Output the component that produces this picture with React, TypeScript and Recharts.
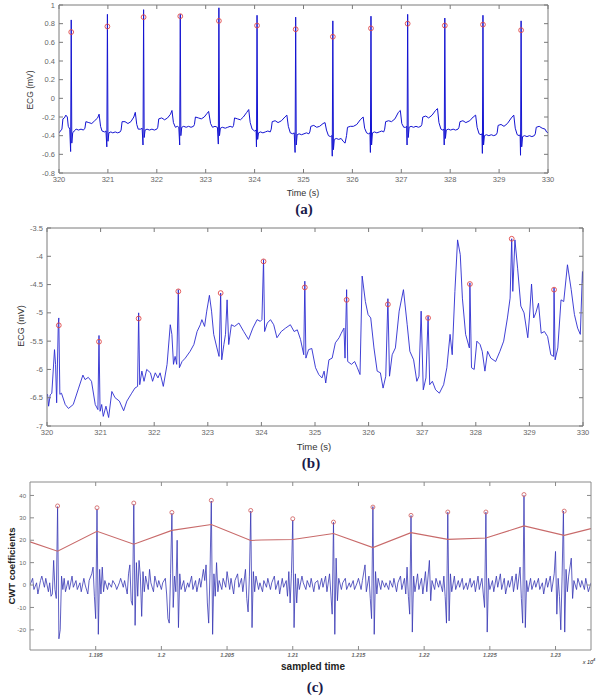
import React from "react";
import { ComposedChart, Line, Scatter, XAxis, YAxis } from "recharts";

// (a) filtered ECG: [time s, mV]
const ecgA: [number, number][] = [
  [320.0, -0.37], [320.03, -0.35], [320.06, -0.33], [320.08, -0.22], [320.11, -0.21], [320.14, -0.18], [320.17, -0.2], [320.19, -0.3], [320.22, -0.33],
  [320.238, -0.57], [320.25, 0.84], [320.262, -0.48], [320.28, -0.37], [320.31, -0.35], [320.35, -0.33], [320.4, -0.34], [320.45, -0.33], [320.5, -0.34], [320.53, -0.32], [320.55, -0.25], [320.61, -0.26], [320.67, -0.27], [320.73, -0.24], [320.79, -0.21], [320.82, -0.17], [320.85, -0.3], [320.88, -0.35], [320.93, -0.36], [320.96, -0.35],
  [320.978, -0.52], [320.99, 0.9], [321.002, -0.46], [321.02, -0.37], [321.06, -0.36], [321.1, -0.37], [321.15, -0.36], [321.2, -0.37], [321.25, -0.36], [321.27, -0.34], [321.29, -0.25], [321.35, -0.25], [321.41, -0.27], [321.47, -0.25], [321.53, -0.2], [321.56, -0.15], [321.59, -0.28], [321.62, -0.33], [321.67, -0.33], [321.7, -0.32],
  [321.718, -0.5], [321.73, 0.95], [321.742, -0.42], [321.76, -0.34], [321.8, -0.33], [321.85, -0.34], [321.9, -0.33], [321.95, -0.34], [322.0, -0.33], [322.02, -0.31], [322.04, -0.22], [322.1, -0.21], [322.16, -0.23], [322.22, -0.21], [322.28, -0.17], [322.31, -0.13], [322.34, -0.26], [322.38, -0.31], [322.42, -0.3], [322.45, -0.31],
  [322.468, -0.5], [322.48, 0.9], [322.492, -0.4], [322.51, -0.31], [322.55, -0.3], [322.6, -0.31], [322.65, -0.3], [322.7, -0.31], [322.75, -0.3], [322.77, -0.28], [322.79, -0.2], [322.85, -0.21], [322.91, -0.22], [322.97, -0.2], [323.03, -0.16], [323.06, -0.14], [323.1, -0.27], [323.14, -0.31], [323.19, -0.3], [323.24, -0.31],
  [323.258, -0.49], [323.27, 0.97], [323.282, -0.4], [323.3, -0.32], [323.34, -0.31], [323.4, -0.32], [323.45, -0.31], [323.5, -0.3], [323.55, -0.31], [323.57, -0.29], [323.59, -0.21], [323.65, -0.22], [323.71, -0.23], [323.77, -0.2], [323.84, -0.15], [323.88, -0.12], [323.91, -0.26], [323.95, -0.33], [324.0, -0.35], [324.03, -0.34],
  [324.038, -0.52], [324.05, 0.89], [324.062, -0.44], [324.08, -0.37], [324.12, -0.36], [324.17, -0.37], [324.22, -0.36], [324.27, -0.35], [324.32, -0.36], [324.34, -0.33], [324.36, -0.25], [324.42, -0.24], [324.48, -0.26], [324.55, -0.24], [324.62, -0.2], [324.66, -0.18], [324.69, -0.3], [324.73, -0.37], [324.78, -0.38], [324.81, -0.37],
  [324.828, -0.58], [324.84, 0.87], [324.852, -0.5], [324.87, -0.39], [324.91, -0.38], [324.96, -0.39], [325.01, -0.38], [325.06, -0.37], [325.11, -0.38], [325.13, -0.36], [325.15, -0.3], [325.21, -0.29], [325.27, -0.31], [325.33, -0.3], [325.4, -0.27], [325.44, -0.26], [325.47, -0.34], [325.51, -0.4], [325.55, -0.41], [325.58, -0.4],
  [325.588, -0.62], [325.6, 0.83], [325.612, -0.55], [325.63, -0.44], [325.67, -0.43], [325.72, -0.44], [325.77, -0.43], [325.81, -0.46], [325.85, -0.48], [325.88, -0.4], [325.9, -0.31], [325.96, -0.3], [326.02, -0.3], [326.09, -0.28], [326.16, -0.23], [326.22, -0.2], [326.25, -0.32], [326.29, -0.37], [326.33, -0.38], [326.36, -0.37],
  [326.368, -0.58], [326.38, 0.88], [326.392, -0.5], [326.41, -0.37], [326.45, -0.36], [326.5, -0.37], [326.55, -0.36], [326.6, -0.35], [326.64, -0.36], [326.66, -0.33], [326.68, -0.25], [326.74, -0.24], [326.8, -0.25], [326.87, -0.22], [326.94, -0.15], [326.98, -0.13], [327.01, -0.27], [327.05, -0.31], [327.09, -0.31], [327.11, -0.3],
  [327.118, -0.5], [327.13, 0.9], [327.142, -0.42], [327.16, -0.31], [327.2, -0.3], [327.25, -0.31], [327.3, -0.3], [327.35, -0.31], [327.4, -0.3], [327.42, -0.28], [327.44, -0.2], [327.5, -0.19], [327.56, -0.21], [327.63, -0.18], [327.7, -0.13], [327.74, -0.11], [327.77, -0.26], [327.81, -0.33], [327.85, -0.34], [327.87, -0.33],
  [327.878, -0.5], [327.89, 0.86], [327.902, -0.43], [327.92, -0.34], [327.96, -0.33], [328.01, -0.34], [328.06, -0.33], [328.11, -0.34], [328.16, -0.33], [328.18, -0.31], [328.2, -0.25], [328.26, -0.24], [328.32, -0.26], [328.4, -0.24], [328.47, -0.2], [328.52, -0.18], [328.55, -0.31], [328.59, -0.38], [328.63, -0.39], [328.65, -0.38],
  [328.658, -0.59], [328.67, 0.89], [328.682, -0.5], [328.7, -0.4], [328.74, -0.39], [328.79, -0.4], [328.84, -0.39], [328.89, -0.4], [328.94, -0.39], [328.96, -0.37], [328.98, -0.29], [329.04, -0.28], [329.1, -0.3], [329.17, -0.27], [329.25, -0.21], [329.3, -0.18], [329.33, -0.32], [329.37, -0.39], [329.41, -0.4], [329.43, -0.39],
  [329.438, -0.61], [329.45, 0.83], [329.462, -0.52], [329.48, -0.41], [329.52, -0.4], [329.57, -0.41], [329.62, -0.4], [329.67, -0.41], [329.72, -0.4], [329.74, -0.38], [329.76, -0.31], [329.82, -0.3], [329.88, -0.32], [329.94, -0.33], [329.97, -0.36], [330.0, -0.37],
];
const peaksA: [number, number][] = [
  [320.25, 0.71], [320.99, 0.77], [321.73, 0.87], [322.48, 0.88], [323.27, 0.83], [324.05, 0.78], [324.84, 0.74],
  [325.6, 0.66], [326.38, 0.75], [327.13, 0.8], [327.89, 0.78], [328.67, 0.79], [329.45, 0.73],
];

// (b) raw ECG with baseline wander
const ecgB: [number, number][] = [
  [319.99, -6.47], [320.01, -6.44], [320.03, -6.65], [320.06, -6.45], [320.09, -6.42], [320.14, -5.65], [320.16, -5.91], [320.18, -6.59], [320.21, -5.21], [320.22, -5.09],
  [320.24, -6.44], [320.27, -6.42], [320.34, -6.62], [320.4, -6.69], [320.49, -6.62], [320.59, -6.33], [320.67, -6.1], [320.71, -6.18], [320.77, -6.14], [320.83, -6.21],
  [320.9, -6.62], [320.95, -6.71], [320.97, -5.4], [320.99, -6.74], [321.02, -6.62], [321.05, -6.83], [321.1, -6.65], [321.15, -6.85], [321.21, -6.39], [321.27, -6.5],
  [321.35, -6.56], [321.43, -6.73], [321.49, -6.56], [321.58, -6.42], [321.64, -6.33], [321.69, -6.3], [321.71, -5.0], [321.73, -6.27], [321.77, -6.03], [321.81, -6.21],
  [321.86, -6.0], [321.93, -6.06], [321.97, -6.21], [322.02, -6.06], [322.07, -6.15], [322.11, -6.06], [322.17, -6.3], [322.24, -5.91], [322.3, -5.21], [322.33, -5.38],
  [322.36, -5.91], [322.39, -5.77], [322.42, -5.91], [322.45, -4.59], [322.47, -5.97], [322.52, -5.86], [322.58, -5.8], [322.67, -5.68], [322.74, -5.56], [322.8, -5.33],
  [322.86, -5.21], [322.89, -5.12], [322.94, -5.24], [322.98, -4.97], [323.03, -4.69], [323.07, -4.97], [323.11, -5.38], [323.17, -5.62], [323.21, -5.77], [323.24, -4.65],
  [323.26, -5.83], [323.3, -5.56], [323.33, -5.38], [323.36, -4.77], [323.39, -5.56], [323.44, -5.21], [323.5, -5.24], [323.58, -5.18], [323.67, -5.33], [323.76, -5.47],
  [323.84, -5.27], [323.92, -5.12], [323.98, -5.15], [324.01, -5.12], [324.04, -4.06], [324.06, -5.33], [324.11, -5.18], [324.17, -5.12], [324.23, -5.21], [324.29, -5.44],
  [324.37, -5.33], [324.45, -5.27], [324.54, -5.21], [324.61, -5.33], [324.67, -5.3], [324.73, -5.47], [324.79, -5.74], [324.81, -4.44], [324.83, -5.8], [324.88, -5.65],
  [324.94, -5.63], [325.01, -5.97], [325.07, -6.09], [325.13, -6.15], [325.17, -6.03], [325.2, -6.24], [325.26, -5.83], [325.32, -5.8], [325.38, -5.53], [325.45, -5.44],
  [325.49, -5.36], [325.54, -5.27], [325.56, -5.8], [325.59, -4.59], [325.61, -5.86], [325.68, -5.91], [325.74, -5.86], [325.79, -5.97], [325.84, -6.09], [325.88, -4.35],
  [325.94, -4.8], [325.99, -5.03], [326.04, -5.09], [326.1, -5.62], [326.16, -6.03], [326.22, -6.06], [326.27, -6.33], [326.32, -6.12], [326.36, -4.75], [326.39, -6.12],
  [326.44, -5.74], [326.5, -5.62], [326.57, -4.97], [326.65, -4.59], [326.72, -5.21], [326.77, -5.68], [326.84, -5.83], [326.9, -6.21], [326.94, -6.12], [326.98, -4.97],
  [327.02, -6.36], [327.07, -6.15], [327.11, -5.06], [327.14, -6.27], [327.19, -6.21], [327.25, -6.36], [327.32, -6.42], [327.4, -6.27], [327.46, -5.97], [327.52, -5.38],
  [327.56, -5.74], [327.61, -4.62], [327.66, -3.71], [327.71, -3.97], [327.75, -4.74], [327.81, -5.38], [327.88, -5.62], [327.89, -4.47], [327.92, -5.97], [327.97, -6.0],
  [328.02, -5.5], [328.08, -5.56], [328.12, -5.68], [328.17, -6.03], [328.22, -5.68], [328.28, -5.8], [328.37, -5.86], [328.45, -5.68], [328.52, -5.5], [328.59, -5.09],
  [328.64, -4.74], [328.67, -3.69], [328.69, -4.62], [328.73, -3.71], [328.78, -4.21], [328.84, -4.88], [328.9, -5.0], [328.97, -5.44], [329.0, -5.09], [329.04, -4.49],
  [329.08, -5.09], [329.12, -5.0], [329.17, -4.83], [329.22, -5.36], [329.28, -5.33], [329.34, -5.42], [329.4, -5.74], [329.45, -5.77], [329.46, -4.56], [329.48, -5.83],
  [329.53, -5.62], [329.59, -4.77], [329.64, -4.8], [329.71, -4.15], [329.78, -4.59], [329.84, -5.03], [329.9, -5.27], [329.95, -5.38], [329.99, -4.27], [330.0, -4.47],
];
const peaksB: [number, number][] = [
  [320.22, -5.22], [320.97, -5.51], [321.71, -5.1], [322.45, -4.62], [323.24, -4.65], [324.04, -4.09], [324.81, -4.55],
  [325.59, -4.77], [326.36, -4.85], [327.11, -5.09], [327.89, -4.49], [328.67, -3.69], [329.46, -4.59],
];

// (c) CWT coefficients over sample index
const cwtC: [number, number][] = [
  [11900, 0], [11902, 3], [11903, -2], [11905, 1], [11906, -4], [11908, 2], [11909, 4], [11911, -1], [11912, 3], [11914, -3], [11915, 1], [11916, -5], [11917, -4], [11918, 11], [11919, -2], [11920, -6],
  [11921, 35], [11922, -24], [11923, -20], [11924, 4], [11925, -2], [11926, 3], [11927, -3], [11929, 2], [11930, -2], [11932, 4], [11933, -1], [11935, 2], [11936, -2], [11938, 1], [11939, -3], [11941, 3],
  [11942, 0], [11944, -4], [11945, 2], [11947, 5], [11948, 8], [11949, -5], [11950, -15], [11951, 34], [11952, -22], [11953, 7], [11954, -4], [11955, 8], [11956, -3], [11957, 2], [11959, -2], [11960, 1],
  [11962, -1], [11963, 2], [11965, 0], [11966, -2], [11968, 1], [11969, 3], [11971, -1], [11972, 2], [11974, -4], [11975, 5], [11976, 9], [11977, -7], [11978, -9], [11979, 36], [11980, -18], [11981, 10],
  [11982, -5], [11983, 11], [11984, 4], [11985, -14], [11986, 6], [11987, -3], [11988, 4], [11990, -2], [11991, 7], [11992, 1], [11994, -3], [11995, 4], [11997, -1], [11998, 2], [12000, -2], [12001, 1],
  [12003, 3], [12004, -4], [12005, -15], [12006, -17], [12007, 5], [12008, 32], [12009, -10], [12010, 4], [12011, -3], [12012, 20], [12013, -19], [12014, 5], [12015, -2], [12017, 2], [12018, -3], [12020, 1],
  [12021, -1], [12023, 4], [12024, -2], [12026, 2], [12027, -3], [12029, 3], [12030, -1], [12032, 7], [12033, 2], [12034, 9], [12035, -8], [12036, -17], [12037, 5], [12038, 37.5], [12039, -22], [12040, 5],
  [12041, -5], [12042, 10], [12043, -3], [12044, 2], [12046, -2], [12047, 3], [12049, -1], [12050, 6], [12052, -2], [12053, 3], [12055, -4], [12056, 2], [12058, 5], [12059, -1], [12061, 3], [12062, -3],
  [12064, 7], [12065, -6], [12066, -12], [12067, 4], [12068, 33], [12069, -19], [12070, 6], [12071, -3], [12072, 4], [12074, -2], [12075, 1], [12077, -3], [12078, 2], [12080, -1], [12081, 3], [12083, -2],
  [12084, 1], [12086, 4], [12087, -2], [12089, 2], [12090, -4], [12092, 3], [12093, -1], [12095, 2], [12096, -5], [12097, 6], [12098, -8], [12099, 5], [12100, 29], [12101, -19], [12102, 5], [12103, -8],
  [12104, 3], [12105, -2], [12107, 4], [12108, 1], [12110, -2], [12111, 2], [12113, -1], [12114, 3], [12116, -3], [12117, 1], [12119, 2], [12120, -2], [12122, 3], [12123, -1], [12125, 4], [12126, -3],
  [12128, 5], [12129, -4], [12130, -13], [12131, 28], [12132, -22], [12133, 12], [12134, -7], [12135, 3], [12137, -2], [12138, 1], [12140, 3], [12141, -2], [12143, 1], [12144, -1], [12146, 2], [12147, -2],
  [12149, 1], [12150, 3], [12152, -2], [12153, 2], [12155, 9], [12156, -3], [12158, 4], [12159, -6], [12160, -15], [12161, 35], [12162, -22], [12163, 6], [12164, -4], [12165, 3], [12167, -2], [12168, 2],
  [12170, -1], [12171, 1], [12173, -2], [12174, 2], [12176, -1], [12177, 3], [12179, -3], [12180, 1], [12182, 4], [12183, -2], [12185, 3], [12186, -4], [12187, 8], [12188, -5], [12189, -13], [12190, 31],
  [12191, -21], [12192, 4], [12193, -3], [12195, 5], [12196, -2], [12198, 3], [12199, -4], [12201, 6], [12202, -3], [12204, 11], [12205, -7], [12206, 2], [12208, -2], [12209, 3], [12211, -1], [12212, 2],
  [12214, -3], [12215, 4], [12216, -5], [12217, -17], [12218, 32.5], [12219, -16], [12220, 5], [12221, -3], [12223, 4], [12224, -2], [12226, 2], [12227, -1], [12229, 3], [12230, -2], [12232, 1], [12233, -2],
  [12235, 3], [12236, -1], [12238, 2], [12239, -3], [12241, 4], [12242, -2], [12244, 3], [12245, -4], [12246, -10], [12247, 32.5], [12248, -21], [12249, 3], [12250, -2], [12252, 2], [12253, -3], [12255, 4],
  [12256, -1], [12258, 5], [12259, -2], [12261, 3], [12262, -4], [12264, 2], [12265, -1], [12267, 4], [12268, -3], [12270, 5], [12271, -2], [12273, 8], [12274, -6], [12275, -17], [12276, 40], [12277, -19],
  [12278, 2], [12279, -3], [12281, 3], [12282, -2], [12284, 2], [12285, -1], [12287, 3], [12288, -2], [12290, 1], [12291, -4], [12293, 3], [12294, -1], [12296, 4], [12297, -3], [12299, 5], [12300, 15],
  [12301, -13], [12302, 3], [12303, -5], [12304, -20], [12305, 4], [12306, 33], [12307, -21], [12308, 7], [12309, -3], [12310, 4], [12312, 12], [12313, -6], [12314, 2], [12316, -2], [12317, 3], [12319, -1],
  [12320, 2], [12322, -2], [12323, 3], [12325, -3], [12327, 1],
];
const thresholdC: [number, number][] = [
  [11900, 19.3], [11921, 15.1], [11951, 24], [11979, 18.2], [12008, 24.4], [12038, 27], [12068, 19.9], [12076, 20.1], [12100, 20.3],
  [12131, 23], [12161, 16.7], [12190, 23.4], [12218, 20.4], [12247, 21], [12276, 26.4], [12306.6, 22.2], [12327, 25.2],
];
const peaksC: [number, number][] = [
  [11921, 35.3], [11951, 34.5], [11979, 36.6], [12008, 32.4], [12038, 37.8], [12068, 33.3], [12100, 29.6],
  [12131, 28.1], [12161, 34.8], [12190, 31.1], [12218, 32.6], [12247, 32.6], [12276, 40.4], [12306.6, 33],
];

const timeTicks = [320, 321, 322, 323, 324, 325, 326, 327, 328, 329, 330];
const aYTicks = [-0.8, -0.6, -0.4, -0.2, 0, 0.2, 0.4, 0.6, 0.8, 1];
const bYTicks = [-7, -6.5, -6, -5.5, -5, -4.5, -4, -3.5];
const cXTicks = [11950, 12000, 12050, 12100, 12150, 12200, 12250, 12300];
const cXLabels = ["1.195", "1.2", "1.205", "1.21", "1.215", "1.22", "1.225", "1.23"];
const cYTicks = [-20, -10, 0, 10, 20, 30, 40];

const rows = (p: [number, number][]) => p.map(([t, v]) => ({ t, v }));

const SANS = "'Liberation Sans', Arial, sans-serif";
const GAP = 3;

// matlab-style ticks pointing into the box
function InTick(props: any) {
  const { x, y, payload, side, len = 4, stroke, fmt, fs = 7.5, fill = "#333", weight = 400, italic } = props;
  const label = fmt ? fmt(payload.value) : null;
  const txt = { fontSize: fs, fill, fontFamily: SANS, fontWeight: weight, fontStyle: italic ? "italic" : "normal" };
  if (side === "bottom") {
    const ay = y - GAP;
    return (
      <g>
        <line x1={x} x2={x} y1={ay} y2={ay - len} stroke={stroke} />
        {label != null && <text x={x} y={ay + 3 + fs * 0.8} textAnchor="middle" {...txt}>{label}</text>}
      </g>
    );
  }
  if (side === "top") {
    const ay = y + GAP;
    return <line x1={x} x2={x} y1={ay} y2={ay + len} stroke={stroke} />;
  }
  if (side === "right") {
    const ax = x - GAP;
    return <line x1={ax} x2={ax - len} y1={y} y2={y} stroke={stroke} />;
  }
  const ax = x + GAP;
  return (
    <g>
      <line x1={ax} x2={ax + len} y1={y} y2={y} stroke={stroke} />
      {label != null && <text x={ax - 4} y={y + fs * 0.35} textAnchor="end" {...txt}>{label}</text>}
    </g>
  );
}

function Ring(props: any) {
  const { cx, cy, r, color } = props;
  return <circle cx={cx} cy={cy} r={r} fill="none" stroke={color} strokeWidth={0.9} />;
}

function Panel(p: any) {
  const frame = p.frame;
  return (
    <ComposedChart width={600} height={p.height} margin={p.margin}>
      <XAxis xAxisId="b" dataKey="t" type="number" domain={p.xDomain} ticks={p.xTicks} interval={0} allowDataOverflow
        height={20} tickSize={0} tickMargin={GAP} axisLine={{ stroke: frame }} tickLine={false}
        tick={<InTick side="bottom" stroke={frame} fmt={p.xFmt} fs={p.xfs} weight={p.xWeight} italic={p.xItalic} />} />
      <XAxis xAxisId="t" orientation="top" dataKey="t" type="number" domain={p.xDomain} ticks={p.xTicks} interval={0} allowDataOverflow
        height={5} tickSize={0} tickMargin={GAP} axisLine={{ stroke: frame }} tickLine={false}
        tick={<InTick side="top" stroke={frame} />} />
      <YAxis yAxisId="l" type="number" domain={p.yDomain} ticks={p.yTicks} interval={0} allowDataOverflow
        width={p.yWidth} tickSize={0} tickMargin={GAP} axisLine={{ stroke: frame }} tickLine={false}
        tick={<InTick side="left" stroke={frame} fmt={(v: number) => String(v)} fs={p.yfs} />} />
      <YAxis yAxisId="r" orientation="right" type="number" domain={p.yDomain} ticks={p.yTicks} interval={0} allowDataOverflow
        width={5} tickSize={0} tickMargin={GAP} axisLine={{ stroke: frame }} tickLine={false}
        tick={<InTick side="right" stroke={frame} />} />
      {p.lines.map((l: any, i: number) => (
        <Line key={i} data={rows(l.data)} dataKey="v" xAxisId="b" yAxisId="l" type="linear" dot={false}
          stroke={l.color} strokeWidth={l.width} isAnimationActive={false} />
      ))}
      <Scatter data={rows(p.peaks)} dataKey="v" xAxisId="t" yAxisId="r" isAnimationActive={false}
        shape={(s: any) => <Ring cx={s.cx} cy={s.cy} r={p.ringR} color={p.ringColor} />} />
    </ComposedChart>
  );
}

const abs = (left: number, top: number, extra: React.CSSProperties = {}): React.CSSProperties => ({
  position: "absolute", left, top, transform: "translate(-50%, -50%)", whiteSpace: "nowrap", lineHeight: 1, ...extra,
});
const tag: React.CSSProperties = { fontFamily: "'Liberation Serif', 'Times New Roman', serif", fontWeight: 700, fontSize: 15, color: "#1a1a4a" };

export default function App() {
  return (
    <div style={{ position: "absolute", left: 0, top: 0, width: 600, height: 696, background: "#fff", overflow: "hidden" }}>
      <div style={{ position: "absolute", left: 0, top: 0 }}>
        <Panel height={200} margin={{ top: 0, right: 47, bottom: 7, left: 19 }} yWidth={40}
          xDomain={[320, 330]} yDomain={[-0.8, 1]} xTicks={timeTicks} yTicks={aYTicks}
          xFmt={(v: number) => String(v)} xfs={7.5} yfs={7.5} frame="#7a7a7a"
          lines={[{ data: ecgA, color: "#1414d2", width: 1 }]} peaks={peaksA} ringR={2.4} ringColor="#e04848" />
      </div>
      <div style={abs(30, 90, { transform: "translate(-50%, -50%) rotate(-90deg)", fontFamily: SANS, fontSize: 8.5, color: "#333" })}>ECG (mV)</div>
      <div style={abs(303, 193, { fontFamily: SANS, fontSize: 9, color: "#333" })}>Time (s)</div>
      <div style={abs(304, 209, tag)}>(a)</div>

      <div style={{ position: "absolute", left: 0, top: 200 }}>
        <Panel height={260} margin={{ top: 23, right: 12, bottom: 14, left: 7 }} yWidth={40}
          xDomain={[320, 330]} yDomain={[-7, -3.5]} xTicks={timeTicks} yTicks={bYTicks}
          xFmt={(v: number) => String(v)} xfs={7.5} yfs={7.5} frame="#7a7a7a"
          lines={[{ data: ecgB, color: "#2b2bd0", width: 0.9 }]} peaks={peaksB} ringR={2.4} ringColor="#e04848" />
      </div>
      <div style={abs(21, 326, { transform: "translate(-50%, -50%) rotate(-90deg)", fontFamily: SANS, fontSize: 9, color: "#333" })}>ECG (mV)</div>
      <div style={abs(314, 447, { fontFamily: SANS, fontSize: 9.5, color: "#333" })}>Time (s)</div>
      <div style={abs(311, 463, tag)}>(b)</div>

      <div style={{ position: "absolute", left: 0, top: 470 }}>
        <Panel height={226} margin={{ top: 7, right: 4, bottom: 26, left: 5 }} yWidth={25}
          xDomain={[11900, 12327]} yDomain={[-29, 46]} xTicks={cXTicks} yTicks={cYTicks}
          xFmt={(v: number) => cXLabels[cXTicks.indexOf(v)]} xfs={5.5} xWeight={700} xItalic yfs={6} frame="#8a8a8a"
          lines={[{ data: cwtC, color: "#3636b4", width: 0.8 }, { data: thresholdC, color: "#c86a6a", width: 1.1 }]}
          peaks={peaksC} ringR={2} ringColor="#d46a6a" />
      </div>
      <div style={abs(12, 566, { transform: "translate(-50%, -50%) rotate(-90deg)", fontFamily: SANS, fontSize: 9.5, fontWeight: 700, color: "#222" })}>CWT coefficients</div>
      <div style={abs(313, 667, { fontFamily: SANS, fontSize: 10, fontWeight: 700, color: "#222" })}>sampled time</div>
      <div style={abs(589, 662, { fontFamily: SANS, fontSize: 5.5, fontStyle: "italic", color: "#222" })}>x 10<sup style={{ fontSize: 4 }}>4</sup></div>
      <div style={abs(315, 687, tag)}>(c)</div>
    </div>
  );
}
